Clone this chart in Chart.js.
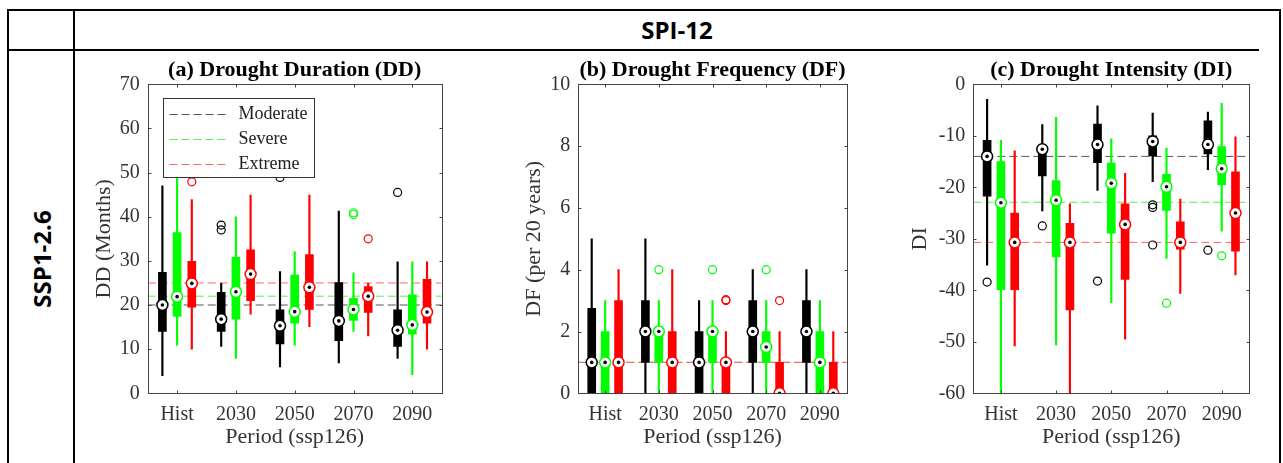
<!DOCTYPE html>
<html>
<head>
<meta charset="utf-8">
<script src="https://cdn.jsdelivr.net/npm/chart.js@4.4.0/dist/chart.umd.min.js"></script>
<style>
  body { margin: 0; background: #fff; width: 1283px; height: 463px; overflow: hidden; position: relative; font-family: 'Open Sans', sans-serif; }
  .ln { position: absolute; background: #000; }
  .hd { position: absolute; font-weight: bold; font-size: 24px; color: #000; white-space: nowrap; }
  canvas { position: absolute; }
</style>
</head>
<body>
<div class="ln" style="left:7px;top:9px;width:1274px;height:2px"></div>
<div class="ln" style="left:7px;top:9px;width:2px;height:454px"></div>
<div class="ln" style="left:73px;top:9px;width:2px;height:454px"></div>
<div class="ln" style="left:1279px;top:9px;width:2px;height:454px"></div>
<div class="ln" style="left:7px;top:49px;width:1252px;height:2px"></div>
<div class="hd" style="left:75px;width:1204px;top:11px;height:38px;line-height:38px;text-align:center">SPI-12</div>
<div class="hd" style="left:41px;top:259px;transform:translate(-50%,-50%) rotate(-90deg)">SSP1-2.6</div>

<canvas id="dd" width="372" height="408" style="left:80px;top:52px"></canvas>
<canvas id="df" width="360" height="408" style="left:500px;top:52px"></canvas>
<canvas id="di" width="375" height="408" style="left:895px;top:52px"></canvas>

<script>
const periods = ['Hist', '2030', '2050', '2070', '2090'];
const levels = ['Moderate', 'Severe', 'Extreme'];

// each row: [whisker low, q1, median, q3, whisker high] per period
const ddModerate = [[4, 14, 20, 27.4, 47], [10.6, 14, 16.8, 22.9, 24.9], [6, 11.2, 15.3, 18.9, 27.6], [6.9, 11.9, 16.4, 25.1, 41.3], [7.9, 10.6, 14.3, 18.9, 29.8]];
const ddSevere = [[10.9, 17.4, 21.9, 36.4, 55], [7.9, 16.8, 23, 30.8, 40], [10.9, 15.9, 18.5, 26.8, 32.1], [14, 16.5, 19, 21.5, 27.3], [4.2, 13.4, 15.5, 22.3, 29.8]];
const ddExtreme = [[10, 19.5, 24.9, 29.9, 43.9], [17.9, 21, 27, 32.5, 44.9], [15.1, 19, 24, 31.4, 44.9], [13, 18.3, 22, 24.2, 24.9], [10, 15.9, 18.4, 25.8, 29.8]];
const ddModerateOut = [[], [38.1, 37], [48.9], [], [45.5]];
const ddSevereOut = [[], [], [], [40.9, 40.5], []];
const ddExtremeOut = [[47.9], [], [], [35], []];
const ddRefs = [20, 22, 25];

const dfModerate = [[0, 0, 1, 2.75, 5], [0, 1, 2, 3, 5], [0, 0, 1, 2, 3], [0, 1, 2, 3, 4], [0, 1, 2, 3, 4]];
const dfSevere = [[0, 0, 1, 2, 3], [0, 1, 2, 2, 3], [0, 1, 2, 2, 3], [0, 1, 1.5, 2, 3], [0, 0, 1, 2, 3]];
const dfExtreme = [[0, 0, 1, 3, 4], [0, 0, 1, 2, 4], [0, 0, 1, 1, 2], [0, 0, 0, 1, 2], [0, 0, 0, 1, 2]];
const dfModerateOut = [[], [], [], [], []];
const dfSevereOut = [[], [4], [4], [4], []];
const dfExtremeOut = [[], [], [3, 3.03], [3], []];
const dfRefs = [1, 1, 1];

const diModerate = [[-35.1, -21.7, -14, -10.9, -2.9], [-24.6, -17.8, -12.6, -12, -7.8], [-20.6, -15.2, -11.7, -7.7, -4.2], [-18.9, -13.9, -11.1, -10, -5.6], [-16.6, -13.5, -11.7, -7.1, -5.4]];
const diSevere = [[-60, -39.9, -23, -15, -10.9], [-50.6, -33.5, -22.5, -18.7, -6.4], [-42.4, -28.9, -19.2, -15.3, -10.6], [-33.8, -24.5, -19.9, -17.5, -12.4], [-28.5, -19.5, -16.4, -12.1, -3.7]];
const diExtreme = [[-50.8, -39.9, -30.7, -25, -12.9], [-60, -43.8, -30.7, -27, -23.2], [-49.5, -37.9, -27.2, -23.2, -17.3], [-40.6, -32, -30.7, -26.7, -22.3], [-37, -32.4, -25, -17, -10.2]];
const diModerateOut = [[-38.4], [-27.5], [-38.2], [-23.4, -23.9, -31.2], [-32.2]];
const diSevereOut = [[], [], [], [-42.5], [-33.3]];
const diExtremeOut = [[], [], [], [], []];
const diRefs = [-14, -22.9, -30.7];

const colors = ['#000000', '#00ff00', '#ff0000'];
const refColors = ['#555555', '#55ee55', '#ff6666'];
const offsets = [-0.25, 0, 0.25];
const serif = "'Liberation Serif', 'Times New Roman', serif";

// frame with inside ticks + panel title centred over the plot area
const framePlugin = {
  id: 'frame',
  afterDatasetsDraw(chart, args, opts) {
    const { ctx, chartArea: a, scales } = chart;
    const l = Math.round(a.left) + 0.5, t = Math.round(a.top) + 0.5;
    const r = Math.round(a.right) + 0.5, b = Math.round(a.bottom) + 0.5;
    ctx.save();
    ctx.strokeStyle = '#444';
    ctx.lineWidth = 1;
    ctx.strokeRect(l, t, r - l, b - t);
    ctx.beginPath();
    scales.x.ticks.forEach(tk => {
      const px = Math.round(scales.x.getPixelForValue(tk.value)) + 0.5;
      ctx.moveTo(px, b); ctx.lineTo(px, b - 3);
      ctx.moveTo(px, t); ctx.lineTo(px, t + 3);
    });
    scales.y.ticks.forEach(tk => {
      const py = Math.round(scales.y.getPixelForValue(tk.value)) + 0.5;
      ctx.moveTo(l, py); ctx.lineTo(l + 3, py);
      ctx.moveTo(r, py); ctx.lineTo(r - 3, py);
    });
    ctx.stroke();
    ctx.fillStyle = '#000';
    ctx.font = 'bold 22px ' + serif;
    ctx.textAlign = 'center';
    ctx.textBaseline = 'alphabetic';
    ctx.fillText(opts.text, (a.left + a.right) / 2, a.top - 8.3);
    ctx.restore();
  }
};

const legendPlugin = {
  id: 'boxLegend',
  afterDraw(chart, args, opts) {
    if (!opts.show) return;
    const { ctx, chartArea: a } = chart;
    const x = Math.round(a.left + 15) + 0.5, y = Math.round(a.top + 13.4) + 0.5;
    ctx.save();
    ctx.fillStyle = '#fff';
    ctx.fillRect(x, y, 151, 79);
    ctx.strokeStyle = '#333';
    ctx.lineWidth = 1;
    ctx.strokeRect(x, y, 151, 79);
    levels.forEach((name, i) => {
      const ly = Math.round(y + 15.6 + i * 25) + 0.5;
      ctx.setLineDash([8, 4]);
      ctx.strokeStyle = refColors[i];
      ctx.beginPath();
      ctx.moveTo(x + 6, ly);
      ctx.lineTo(x + 66, ly);
      ctx.stroke();
      ctx.setLineDash([]);
      ctx.fillStyle = '#222';
      ctx.font = '18px ' + serif;
      ctx.textBaseline = 'middle';
      ctx.fillText(name, x + 75, ly);
    });
    ctx.restore();
  }
};

function drawPanel(id, title, yTitle, series, outliers, refs, yMin, yMax, yStep, geo, withLegend) {
  const datasets = [];
  series.forEach((rows, li) => {
    const xs = rows.map((r, i) => i + 1 + offsets[li]);
    // whiskers
    datasets.push({
      type: 'bar', data: rows.map((r, i) => ({ x: xs[i], y: [r[0], r[4]] })),
      backgroundColor: colors[li], barThickness: 1.5, maxBarThickness: 1.5, grouped: false, order: 20
    });
    // boxes
    datasets.push({
      type: 'bar', data: rows.map((r, i) => ({ x: xs[i], y: [r[1], r[3]] })),
      backgroundColor: colors[li], barThickness: 8, maxBarThickness: 8, grouped: false, order: 10
    });
    // median ring + dot
    datasets.push({
      type: 'scatter', data: rows.map((r, i) => ({ x: xs[i], y: r[2] })),
      pointRadius: 5.5, pointBackgroundColor: '#fff', pointBorderColor: colors[li], pointBorderWidth: 1.5, order: 2
    });
    datasets.push({
      type: 'scatter', data: rows.map((r, i) => ({ x: xs[i], y: r[2] })),
      pointRadius: 1.8, pointBackgroundColor: '#000', pointBorderWidth: 0, order: 1
    });
    // outliers
    const pts = [];
    outliers[li].forEach((vals, i) => vals.forEach(v => pts.push({ x: xs[i], y: v })));
    datasets.push({
      type: 'scatter', data: pts,
      pointRadius: 4, pointBackgroundColor: 'rgba(0,0,0,0)', pointBorderColor: colors[li], pointBorderWidth: 1.2, order: 3
    });
    // reference level
    datasets.push({
      type: 'line', data: [{ x: 0.5, y: refs[li] }, { x: 5.5, y: refs[li] }],
      borderColor: refColors[li], borderWidth: 1, borderDash: [8, 4], pointRadius: 0, order: 30 - li
    });
  });

  new Chart(document.getElementById(id), {
    type: 'bar',
    data: { datasets: datasets },
    options: {
      responsive: false,
      animation: false,
      layout: { padding: { top: geo.padTop, right: geo.padRight, left: 0, bottom: 0 } },
      plugins: {
        legend: { display: false },
        tooltip: { enabled: false },
        frame: { text: title },
        boxLegend: { show: withLegend }
      },
      scales: {
        x: {
          type: 'linear', min: 0.5, max: 5.5, offset: false,
          grid: { display: false, drawTicks: false },
          border: { display: false },
          afterBuildTicks: s => { s.ticks = periods.map((p, i) => ({ value: i + 1 })); },
          afterFit: s => { s.height = geo.xHeight; },
          ticks: {
            padding: 9.7, autoSkip: false, maxRotation: 0, color: '#333',
            font: { family: serif, size: 20 },
            callback: v => periods[v - 1]
          },
          title: {
            display: true, text: 'Period (ssp126)', color: '#333',
            font: { family: serif, size: 22 }, padding: { top: 0, bottom: 9.3 }
          }
        },
        y: {
          type: 'linear', min: yMin, max: yMax,
          grid: { display: false, drawTicks: false },
          border: { display: false },
          afterFit: s => { s.width = geo.yWidth; },
          ticks: {
            stepSize: yStep, padding: 8, color: '#333',
            font: { family: serif, size: 20 },
            callback: v => String(v)
          },
          title: {
            display: true, text: yTitle, color: '#333',
            font: { family: serif, size: 22 }, padding: { top: geo.yTitlePad, bottom: 0 }
          }
        }
      }
    },
    plugins: [framePlugin, legendPlugin]
  });
}

drawPanel('dd', '(a) Drought Duration (DD)', 'DD (Months)',
  [ddModerate, ddSevere, ddExtreme], [ddModerateOut, ddSevereOut, ddExtremeOut], ddRefs,
  0, 70, 10, { yWidth: 67.7, padRight: 10.3, padTop: 32.3, xHeight: 66.7, yTitlePad: 10.8 }, true);

drawPanel('df', '(b) Drought Frequency (DF)', 'DF (per 20 years)',
  [dfModerate, dfSevere, dfExtreme], [dfModerateOut, dfSevereOut, dfExtremeOut], dfRefs,
  0, 10, 2, { yWidth: 78.3, padRight: 13.3, padTop: 32.3, xHeight: 66.7, yTitlePad: 20.8 }, false);

drawPanel('di', '(c) Drought Intensity (DI)', 'DI',
  [diModerate, diSevere, diExtreme], [diModerateOut, diSevereOut, diExtremeOut], diRefs,
  -60, 0, 10, { yWidth: 78.3, padRight: 20.7, padTop: 32.3, xHeight: 66.7, yTitlePad: 12.3 }, false);
</script>
</body>
</html>
